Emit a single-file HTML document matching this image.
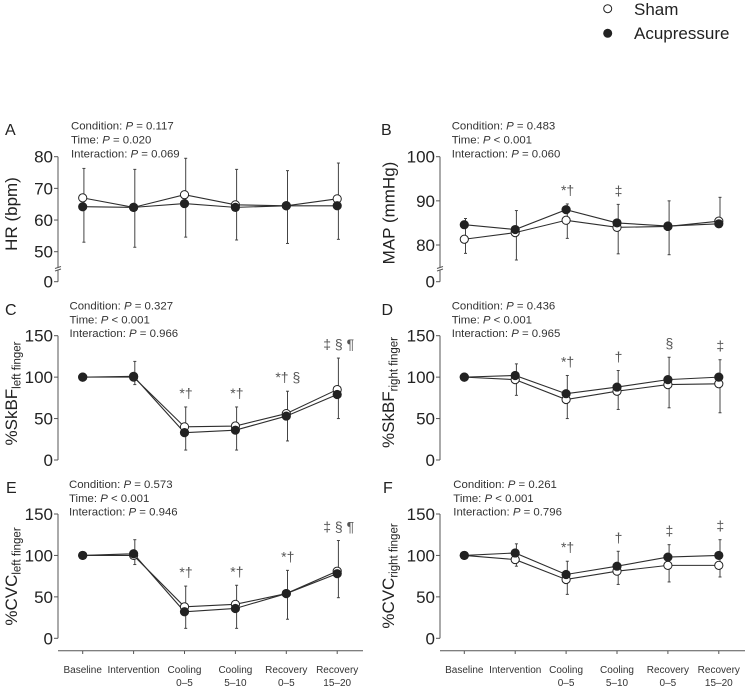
<!DOCTYPE html>
<html lang="en">
<head>
<meta charset="utf-8">
<title>Cardiovascular responses, sham vs acupressure</title>
<style>
html,body{margin:0;padding:0;background:#fff;width:748px;height:689px;overflow:hidden}
svg{display:block;font-family:"Liberation Sans",Arial,sans-serif}
.stat{font-size:11.4px;fill:#333}
.letter{font-size:16px;fill:#222}
.title{font-size:17px;fill:#222}
.sub{font-size:11.5px}
.leg{font-size:17px;fill:#222}
</style>
</head>
<body>
<svg id="chart" xmlns="http://www.w3.org/2000/svg" width="748" height="689" viewBox="0 0 748 689">
  <g>
    <circle cx="607.7" cy="8.7" r="4" fill="#fff" stroke="#222" stroke-width="1"/>
    <text class="leg" x="634" y="15">Sham</text>
    <circle cx="607.7" cy="33.3" r="4.5" fill="#222"/>
    <text class="leg" x="634" y="39">Acupressure</text>
  </g>

  <text class="letter" x="5" y="135">A</text>
  <text class="letter" x="381" y="135">B</text>
  <text class="letter" x="5" y="315">C</text>
  <text class="letter" x="381.5" y="315">D</text>
  <text class="letter" x="6" y="493">E</text>
  <text class="letter" x="383" y="493">F</text>

  <g class="stat">
    <text x="71" y="129.5">Condition: <tspan font-style="italic">P</tspan> = 0.117</text>
    <text x="71" y="143.5">Time: <tspan font-style="italic">P</tspan> = 0.020</text>
    <text x="71" y="157.3">Interaction: <tspan font-style="italic">P</tspan> = 0.069</text>
  </g>
  <g class="stat">
    <text x="451.7" y="129.5">Condition: <tspan font-style="italic">P</tspan> = 0.483</text>
    <text x="451.7" y="143.5">Time: <tspan font-style="italic">P</tspan> &lt; 0.001</text>
    <text x="451.7" y="157.3">Interaction: <tspan font-style="italic">P</tspan> = 0.060</text>
  </g>
  <g class="stat">
    <text x="69.5" y="309.5">Condition: <tspan font-style="italic">P</tspan> = 0.327</text>
    <text x="69.5" y="323.5">Time: <tspan font-style="italic">P</tspan> &lt; 0.001</text>
    <text x="69.5" y="337.2">Interaction: <tspan font-style="italic">P</tspan> = 0.966</text>
  </g>
  <g class="stat">
    <text x="451.7" y="309.5">Condition: <tspan font-style="italic">P</tspan> = 0.436</text>
    <text x="451.7" y="323.5">Time: <tspan font-style="italic">P</tspan> &lt; 0.001</text>
    <text x="451.7" y="337.2">Interaction: <tspan font-style="italic">P</tspan> = 0.965</text>
  </g>
  <g class="stat">
    <text x="69" y="488">Condition: <tspan font-style="italic">P</tspan> = 0.573</text>
    <text x="69" y="502">Time: <tspan font-style="italic">P</tspan> &lt; 0.001</text>
    <text x="69" y="515.6">Interaction: <tspan font-style="italic">P</tspan> = 0.946</text>
  </g>
  <g class="stat">
    <text x="453.3" y="488">Condition: <tspan font-style="italic">P</tspan> = 0.261</text>
    <text x="453.3" y="502">Time: <tspan font-style="italic">P</tspan> &lt; 0.001</text>
    <text x="453.3" y="515.6">Interaction: <tspan font-style="italic">P</tspan> = 0.796</text>
  </g>

  <text class="title" text-anchor="middle" transform="translate(17 214) rotate(-90)">HR (bpm)</text>
  <text class="title" text-anchor="middle" transform="translate(394.5 213) rotate(-90)">MAP (mmHg)</text>
  <text class="title" text-anchor="middle" transform="translate(17 393.5) rotate(-90)">%SkBF<tspan class="sub" dy="3.5">left finger</tspan></text>
  <text class="title" text-anchor="middle" transform="translate(394 392.5) rotate(-90)">%SkBF<tspan class="sub" dy="3.5">right finger</tspan></text>
  <text class="title" text-anchor="middle" transform="translate(17 576.5) rotate(-90)">%CVC<tspan class="sub" dy="3.5">left finger</tspan></text>
  <text class="title" text-anchor="middle" transform="translate(394 576) rotate(-90)">%CVC<tspan class="sub" dy="3.5">right finger</tspan></text>
</svg>

<script>
// ----- shared data -----
var categoriesLine1 = ['Baseline', 'Intervention', 'Cooling', 'Cooling', 'Recovery', 'Recovery'];
var categoriesLine2 = ['', '', '0\u20135', '5\u201310', '0\u20135', '15\u201320'];

// ----- panel A: HR -----
var ticksA = [0, 50, 60, 70, 80];
var shamA = [67, 64, 68, 64.8, 64.5, 66.7];
var acuA = [64.2, 64, 65.2, 64, 64.5, 64.5];
var upperA = [76.3, 76, 79.5, 76, 75.6, 78];
var lowerA = [53, 51.4, 54.6, 53.7, 52.6, 53.9];
var marksA = ['', '', '', '', '', ''];

// ----- panel B: MAP -----
var ticksB = [0, 80, 90, 100];
var shamB = [81.3, 82.8, 85.6, 84, 84.2, 85.4];
var acuB = [84.6, 83.5, 88, 85, 84.3, 84.8];
var upperB = [86, 87.8, 89.3, 89.2, 90, 90.8];
var lowerB = [78.1, 76.6, 81.5, 78, 77.8, 84];
var marksB = ['', '', '*\u2020', '\u2021', '', ''];

// ----- panel C: %SkBF left -----
var ticksC = [0, 50, 100, 150];
var shamC = [100, 100, 40, 41, 56, 85];
var acuC = [100, 101, 33, 36, 53, 79];
var upperC = [null, 119, 64, 64, 83, 123];
var lowerC = [null, 91, 12, 12, 23, 50];
var marksC = ['', '', '*\u2020', '*\u2020', '*\u2020 \u00a7', '\u2021 \u00a7 \u00b6'];

// ----- panel D: %SkBF right -----
var ticksD = [0, 50, 100, 150];
var shamD = [100, 97, 73, 83, 91, 92];
var acuD = [100, 102, 80, 88, 97, 100];
var upperD = [null, 116, 102, 108, 124, 121];
var lowerD = [null, 78, 50, 61, 63, 57];
var marksD = ['', '', '*\u2020', '\u2020', '\u00a7', '\u2021'];

// ----- panel E: %CVC left -----
var ticksE = [0, 50, 100, 150];
var shamE = [100, 100, 38, 41, 54, 81];
var acuE = [100, 102, 32, 36, 54, 78];
var upperE = [null, 119, 63, 64, 82, 118];
var lowerE = [null, 89, 12, 12, 23, 49];
var marksE = ['', '', '*\u2020', '*\u2020', '*\u2020', '\u2021 \u00a7 \u00b6'];

// ----- panel F: %CVC right -----
var ticksF = [0, 50, 100, 150];
var shamF = [100, 95, 71, 81, 88, 88];
var acuF = [100, 103, 77, 87, 98, 100];
var upperF = [null, 114, 93, 105, 113, 119];
var lowerF = [null, 87, 53, 65, 68, 74];
var marksF = ['', '', '*\u2020', '\u2020', '\u2021', '\u2021'];

// ----- layout -----
var NS = 'http://www.w3.org/2000/svg';
var svg = document.getElementById('chart');
var INK = '#222';
var LINE = '#2e2e2e';
var AXIS = '#555';
var STEP = 50.9;

function make(tag, parent, attrs) {
  var el = document.createElementNS(NS, tag);
  for (var k in attrs) { el.setAttribute(k, attrs[k]); }
  parent.appendChild(el);
  return el;
}

// y axis: linear above refLow; below it the axis is broken down to 0
function makeYScale(layout) {
  return function (v) {
    if (v === 0) { return layout.yZero; }
    var s = (layout.yRefLow - layout.yRefHigh) / (layout.refHigh - layout.refLow);
    return layout.yRefLow - (v - layout.refLow) * s;
  };
}

function makeXScale(x0) {
  return function (i) { return x0 + i * STEP; };
}

function drawPanel(p) {
  var y = makeYScale(p.layout);
  var x = makeXScale(p.x0);
  var axisX = p.axisX;
  var ticks = p.ticks;
  var g = make('g', svg, {});
  
  

  // y axis
  var topV = ticks[ticks.length - 1];
  if (p.layout.broken) {
    var yaUp = make('line', g, {x1: axisX, x2: axisX, y1: y(topV), y2: 267.5, stroke: AXIS, 'stroke-width': 1});
    
    
    var yaLow = make('line', g, {x1: axisX, x2: axisX, y1: 270.5, y2: y(0), stroke: AXIS, 'stroke-width': 1});
    
    
    for (var b = 0; b < 2; b++) {
      var brk = make('line', g, {x1: axisX - 3, x2: axisX + 3, y1: 268.5 + b * 2.5, y2: 266.5 + b * 2.5, stroke: AXIS, 'stroke-width': 1});
      
      
    }
  } else {
    var ya = make('line', g, {x1: axisX, x2: axisX, y1: y(topV), y2: y(0), stroke: AXIS, 'stroke-width': 1});
    
    
  }
  ticks.forEach(function (t) {
    var tk = make('line', g, {x1: axisX - 4, x2: axisX, y1: y(t), y2: y(t), stroke: AXIS, 'stroke-width': 1});
    
    
    var lb = make('text', g, {x: axisX - 5, y: y(t) + 6, 'text-anchor': 'end', 'font-size': 17, fill: INK});
    
    
    lb.textContent = t;
  });

  // x axis (bottom panels only)
  if (p.showX) {
    var xa = make('line', g, {x1: axisX, x2: axisX + 305, y1: 650.7, y2: 650.7, stroke: AXIS, 'stroke-width': 1});
    
    
    categoriesLine1.forEach(function (c, i) {
      var xt = make('line', g, {x1: x(i), x2: x(i), y1: 650.7, y2: 654, stroke: AXIS, 'stroke-width': 1});
      
      
      var l1 = make('text', g, {x: x(i), y: 673, 'text-anchor': 'middle', 'font-size': 10, fill: '#333'});
      
      
      l1.textContent = c;
      if (categoriesLine2[i]) {
        var l2 = make('text', g, {x: x(i), y: 686, 'text-anchor': 'middle', 'font-size': 10, fill: '#333'});
        
        
        l2.textContent = categoriesLine2[i];
      }
    });
  }

  // error bars
  p.upper.forEach(function (u, i) {
    if (u === null) { return; }
    var ex = x(i) + 1.2;
    var ly = y(p.lower[i]);
    var uy = y(u);
    var bar = make('line', g, {x1: ex, x2: ex, y1: uy, y2: ly, stroke: '#444', 'stroke-width': 1});
    
    
    var c1 = make('line', g, {x1: ex - 1.5, x2: ex + 1.5, y1: uy, y2: uy, stroke: '#444', 'stroke-width': 1});
    
    
    var c2 = make('line', g, {x1: ex - 1.5, x2: ex + 1.5, y1: ly, y2: ly, stroke: '#444', 'stroke-width': 1});
    
    
  });

  // series lines
  var ptsSham = p.sham.map(function (v, i) { return x(i) + ',' + y(v); }).join(' ');
  var lineSham = make('polyline', g, {points: ptsSham, fill: 'none', stroke: LINE, 'stroke-width': 1.1});
  
  
  var ptsAcu = p.acu.map(function (v, i) { return x(i) + ',' + y(v); }).join(' ');
  var lineAcu = make('polyline', g, {points: ptsAcu, fill: 'none', stroke: LINE, 'stroke-width': 1.1});
  
  

  // markers
  p.sham.forEach(function (v, i) {
    var m = make('circle', g, {cx: x(i), cy: y(v), r: 4.1, fill: '#fff', stroke: INK, 'stroke-width': 1});
    
    
  });
  p.acu.forEach(function (v, i) {
    var m = make('circle', g, {cx: x(i), cy: y(v), r: 4.6, fill: INK});
    
    
  });

  // significance annotations sit just above the upper error bar
  p.marks.forEach(function (s, i) {
    if (!s) { return; }
    var a = make('text', g, {x: x(i) + 1.5, y: y(p.upper[i]) - 9, 'text-anchor': 'middle', 'font-size': 14, fill: '#555'});
    
    
    a.textContent = s;
  });
}

var leftX0 = 82.7, rightX0 = 464.3, leftAxis = 58, rightAxis = 440;

drawPanel({id: 'a', x0: leftX0, axisX: leftAxis, ticks: ticksA, sham: shamA, acu: acuA, upper: upperA, lower: lowerA, marks: marksA,
  layout: {broken: true, yZero: 281.7, refLow: 50, yRefLow: 251.7, refHigh: 80, yRefHigh: 156.7}});
drawPanel({id: 'b', x0: rightX0, axisX: rightAxis, ticks: ticksB, sham: shamB, acu: acuB, upper: upperB, lower: lowerB, marks: marksB,
  layout: {broken: true, yZero: 281.7, refLow: 80, yRefLow: 245, refHigh: 100, yRefHigh: 156.7}});
drawPanel({id: 'c', x0: leftX0, axisX: leftAxis, ticks: ticksC, sham: shamC, acu: acuC, upper: upperC, lower: lowerC, marks: marksC,
  layout: {broken: false, yZero: 460, refLow: 0, yRefLow: 460, refHigh: 150, yRefHigh: 335.7}});
drawPanel({id: 'd', x0: rightX0, axisX: rightAxis, ticks: ticksD, sham: shamD, acu: acuD, upper: upperD, lower: lowerD, marks: marksD,
  layout: {broken: false, yZero: 460, refLow: 0, yRefLow: 460, refHigh: 150, yRefHigh: 335.7}});
drawPanel({id: 'e', x0: leftX0, axisX: leftAxis, ticks: ticksE, sham: shamE, acu: acuE, upper: upperE, lower: lowerE, marks: marksE, showX: true,
  layout: {broken: false, yZero: 638.3, refLow: 0, yRefLow: 638.3, refHigh: 150, yRefHigh: 514}});
drawPanel({id: 'f', x0: rightX0, axisX: rightAxis, ticks: ticksF, sham: shamF, acu: acuF, upper: upperF, lower: lowerF, marks: marksF, showX: true,
  layout: {broken: false, yZero: 638.3, refLow: 0, yRefLow: 638.3, refHigh: 150, yRefHigh: 514}});
</script>
</body>
</html>
